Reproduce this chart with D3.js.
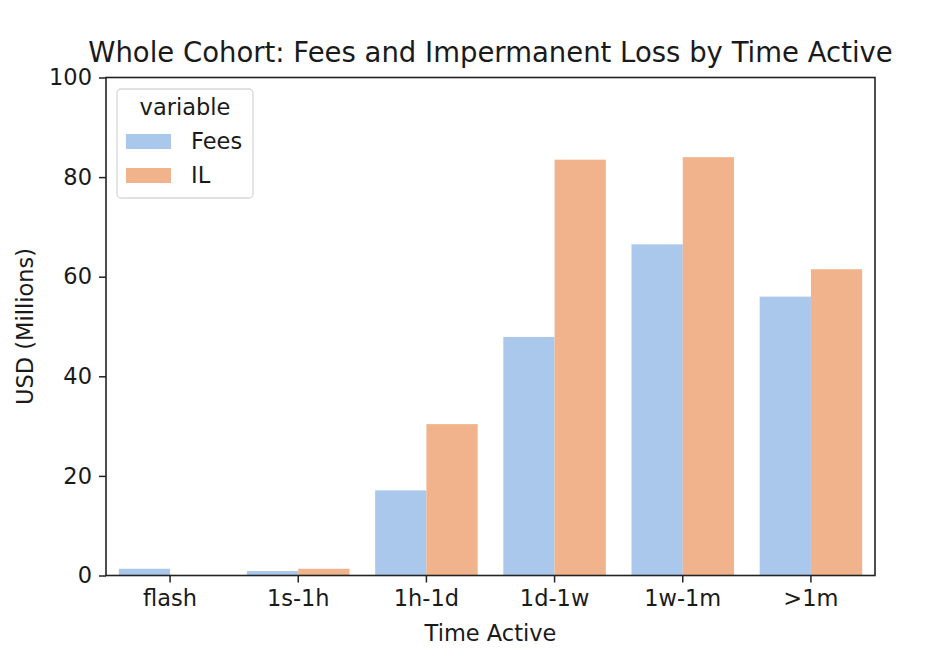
<!DOCTYPE html>
<html><head><meta charset="utf-8">
<script src="https://cdn.jsdelivr.net/npm/d3@7"></script>
<style>body{margin:0;background:#fff}svg{display:block}text{font-family:"DejaVu Sans",sans-serif;fill:#1a1a1a}</style>
</head><body>
<svg id="c" width="944" height="666"></svg>
<script>
const categories = ["flash","1s-1h","1h-1d","1d-1w","1w-1m",">1m"];
const seriesNames = ["Fees","IL"];
const fees = [1.35, 0.9, 17.1, 47.9, 66.5, 56.0];
const il = [0.05, 1.35, 30.4, 83.5, 84.0, 61.5];
const yTicks = [0,20,40,60,80,100];
const colors = ["#aac8ec","#f0b38b"];

const svg = d3.select("#c");
const L=106, R=875, T=77.5, B=575.5;
const x = d3.scaleBand().domain(categories).range([L,R]).paddingInner(0).paddingOuter(0);
const xs = d3.scaleBand().domain(seriesNames).range([0, x.bandwidth()]).paddingInner(0).paddingOuter(0.25);
const y = d3.scaleLinear().domain([0,100]).range([B,T]);

const data = categories.map((c,i)=>({c, vals:[fees[i], il[i]]}));
const g = svg.append("g");
data.forEach(d=>{
  d.vals.forEach((v,j)=>{
    g.append("rect").attr("x", x(d.c)+xs(seriesNames[j])).attr("width", xs.bandwidth())
      .attr("y", y(v)).attr("height", y(0)-y(v)).attr("fill", colors[j]);
  });
});

const FS = 22.5;
const xa = svg.append("g").attr("transform",`translate(0,${B})`)
  .call(d3.axisBottom(x).tickSize(7).tickPadding(8));
const ya = svg.append("g").attr("transform",`translate(${L},0)`)
  .call(d3.axisLeft(y).tickValues(yTicks).tickSize(7).tickPadding(7));
[xa,ya].forEach(a=>{
  a.select(".domain").remove();
  a.selectAll(".tick line").attr("stroke","#222").attr("stroke-width",1.5);
  a.selectAll("text").attr("font-size",FS).style("font-family","DejaVu Sans").attr("fill","#1a1a1a");
});
svg.append("rect").attr("x",L).attr("y",T).attr("width",R-L).attr("height",B-T)
  .attr("fill","none").attr("stroke","#222").attr("stroke-width",1.6);

svg.append("text").attr("x",(L+R)/2).attr("y",62).attr("text-anchor","middle").attr("font-size",27.5)
  .text("Whole Cohort: Fees and Impermanent Loss by Time Active");
svg.append("text").attr("x",(L+R)/2).attr("y",641).attr("text-anchor","middle").attr("font-size",FS).text("Time Active");
svg.append("text").attr("transform",`translate(33,${(T+B)/2}) rotate(-90)`).attr("text-anchor","middle").attr("font-size",FS).text("USD (Millions)");

// legend
const lg = svg.append("g");
lg.append("rect").attr("x",117).attr("y",89).attr("width",136).attr("height",109).attr("rx",4)
  .attr("fill","#fff").attr("fill-opacity",0.8).attr("stroke","#d8d8d8").attr("stroke-width",1.3);
lg.append("text").attr("x",185).attr("y",115).attr("text-anchor","middle").attr("font-size",FS).text("variable");
seriesNames.forEach((s,i)=>{
  const yy = 134 + i*34;
  lg.append("rect").attr("x",126).attr("y",yy).attr("width",45).attr("height",15).attr("fill",colors[i]);
  lg.append("text").attr("x",191).attr("y",yy+15).attr("font-size",FS).text(s);
});
</script>
</body></html>
